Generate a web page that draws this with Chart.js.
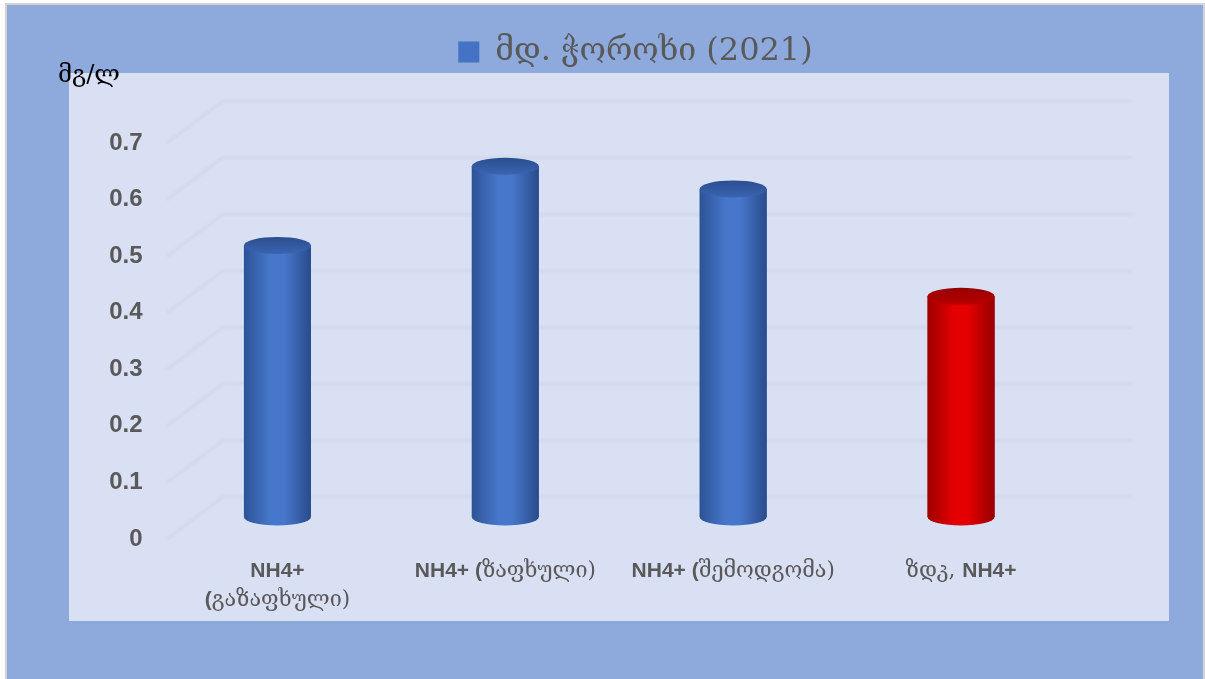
<!DOCTYPE html>
<html>
<head>
<meta charset="utf-8">
<title>მდ. ჭოროხი (2021)</title>
<script src="https://cdn.jsdelivr.net/npm/chart.js@4.4.1/dist/chart.umd.min.js"></script>
<style>
  html, body { margin: 0; padding: 0; background: #fff; }
  canvas { display: block; }
</style>
</head>
<body>
<canvas id="chart" width="1205" height="679"></canvas>
<script>
// ===== Data =====
const categories = [["NH4+", "(გაზაფხული)"], "NH4+ (ზაფხული)", "NH4+ (შემოდგომა)", "ზდკ, NH4+"];
const values = [0.48, 0.62, 0.58, 0.39];
const seriesName = "მდ. ჭოროხი (2021)";
const unitLabel = "მგ/ლ";
const yTicks = [0, 0.1, 0.2, 0.3, 0.4, 0.5, 0.6, 0.7];
const yTickLabels = ["0", "0.1", "0.2", "0.3", "0.4", "0.5", "0.6", "0.7"];

// ===== Styling =====
const TEXT = "#595959";
const BOLD_FONT = "bold 21px 'Liberation Sans', Arial, sans-serif";
const GEO_FONT = "21.5px 'DejaVu Serif', serif";

// the limit value (ზდკ) is drawn red, the measurements blue
const isLimit = (i) => String(categories[i]).includes("ზდკ");

const BLUE = { edge: "#2d5396", light: "#4777cb", dark: "#294b8b", capTop: "#2a4e8f", capBottom: "#3a64b2", flat: "#4472c4" };
const RED = { edge: "#a00000", light: "#e40000", dark: "#980000", capTop: "#960000", capBottom: "#bb0000", flat: "#c00000" };
const pal = (i) => (isLimit(i) ? RED : BLUE);

// offsets of the back wall / front edge from the bar plane
const BACK_DY = -20;
const FRONT_DY = 22;
const WALL_X0 = 167;   // front-left corner of the floor grid
const WALL_X1 = 223;   // back-left corner
const WALL_X2 = 1132;  // back-right end of grid lines
const LEGEND_SHIFT = 98;

// ===== Plugins =====
const backdrop = {
  id: "backdrop",
  afterLayout(chart) {
    // legend sits centred over the plot frame, not the axis box
    const lg = chart.legend;
    if (lg) { lg.left += LEGEND_SHIFT; lg.right += LEGEND_SHIFT; }
  },
  beforeDraw(chart) {
    const { ctx, width, height } = chart;
    ctx.save();
    ctx.fillStyle = "#ffffff";
    ctx.fillRect(0, 0, width, height);
    ctx.fillStyle = "#d3d3d3";
    ctx.fillRect(5, 3, 1200, 676);
    ctx.fillStyle = "#8eaadc";
    ctx.fillRect(7, 5, 1196, 674);
    ctx.fillStyle = "#dae0f3";
    ctx.fillRect(69, 73, 1100, 548);
    ctx.restore();
  }
};

// faint 3D wall gridlines
const wallGrid = {
  id: "wallGrid",
  beforeDatasetsDraw(chart) {
    const { ctx } = chart;
    const y = chart.scales.y;
    ctx.save();
    ctx.filter = "blur(1.2px)";
    ctx.strokeStyle = "rgba(204,210,230,0.5)";
    ctx.lineWidth = 3;
    yTicks.forEach((v) => {
      const mid = y.getPixelForValue(v);
      ctx.beginPath();
      ctx.moveTo(WALL_X0, mid + FRONT_DY);
      ctx.lineTo(WALL_X1, mid + BACK_DY);
      ctx.lineTo(WALL_X2, mid + BACK_DY);
      ctx.stroke();
    });
    ctx.restore();
  }
};

// turns the flat bars into shaded cylinders
const cylinders = {
  id: "cylinders",
  afterDatasetsDraw(chart) {
    const { ctx } = chart;
    const meta = chart.getDatasetMeta(0);
    meta.data.forEach((bar, i) => {
      const p = pal(i);
      const rx = bar.width / 2;
      const ry = 8.5;
      const l = bar.x - rx, r = bar.x + rx;
      const body = ctx.createLinearGradient(l, 0, r, 0);
      body.addColorStop(0, p.edge);
      body.addColorStop(0.4, p.light);
      body.addColorStop(0.6, p.light);
      body.addColorStop(1, p.dark);

      ctx.save();
      ctx.fillStyle = body;
      ctx.beginPath();
      ctx.ellipse(bar.x, bar.base, rx, ry, 0, 0, Math.PI * 2);
      ctx.fill();
      ctx.fillRect(l, bar.y, bar.width, bar.base - bar.y);

      const cap = ctx.createLinearGradient(0, bar.y - ry, 0, bar.y + ry);
      cap.addColorStop(0, p.capTop);
      cap.addColorStop(1, p.capBottom);
      ctx.fillStyle = cap;
      ctx.beginPath();
      ctx.ellipse(bar.x, bar.y, rx, ry, 0, 0, Math.PI * 2);
      ctx.fill();
      ctx.restore();
    });
  }
};

// category labels: Latin part bold, Georgian part regular
function splitRuns(text) {
  const runs = [];
  for (const ch of text) {
    let bold = !(/[\u10A0-\u10FF),]/.test(ch));
    if (ch === " " && runs.length) bold = runs[runs.length - 1].bold;
    const last = runs[runs.length - 1];
    if (last && last.bold === bold) last.text += ch;
    else runs.push({ text: ch, bold });
  }
  return runs;
}

const categoryLabels = {
  id: "categoryLabels",
  afterDraw(chart) {
    const { ctx } = chart;
    const x = chart.scales.x;
    ctx.save();
    ctx.fillStyle = TEXT;
    ctx.textBaseline = "middle";
    ctx.textAlign = "left";
    categories.forEach((cat, i) => {
      const cx = x.getPixelForValue(i);
      const lines = Array.isArray(cat) ? cat : [cat];
      lines.forEach((line, k) => {
        const runs = splitRuns(line);
        let total = 0;
        runs.forEach((r) => {
          ctx.font = r.bold ? BOLD_FONT : GEO_FONT;
          r.w = ctx.measureText(r.text).width;
          total += r.w;
        });
        let px = cx - total / 2;
        const py = 571 + k * 29;
        runs.forEach((r) => {
          ctx.font = r.bold ? BOLD_FONT : GEO_FONT;
          ctx.fillText(r.text, px, py);
          px += r.w;
        });
      });
    });

    // unit label in the top-left corner
    ctx.fillStyle = "#000";
    ctx.font = "24px 'DejaVu Serif', serif";
    ctx.textBaseline = "alphabetic";
    ctx.fillText(unitLabel, 58, 82);
    ctx.restore();
  }
};

// ===== Chart =====
new Chart(document.getElementById("chart"), {
  type: "bar",
  data: {
    labels: categories,
    datasets: [{
      label: seriesName,
      data: values,
      backgroundColor: values.map((_, i) => pal(i).flat),
      borderWidth: 0,
      barPercentage: 0.294,
      categoryPercentage: 1
    }]
  },
  options: {
    responsive: false,
    animation: false,
    devicePixelRatio: 1,
    layout: { padding: { top: 26, left: 0, right: 130, bottom: 162 } },
    plugins: {
      tooltip: { enabled: false },
      legend: {
        position: "top",
        labels: {
          color: TEXT,
          font: { family: "'DejaVu Serif', serif", size: 32 },
          boxWidth: 21,
          boxHeight: 21,
          padding: 10,
          generateLabels: () => [{
            text: seriesName,
            fillStyle: BLUE.flat,
            strokeStyle: BLUE.flat,
            lineWidth: 0,
            fontColor: TEXT,
            datasetIndex: 0
          }]
        }
      }
    },
    scales: {
      x: {
        display: false,
        offset: true
      },
      spacer: {
        type: "linear",
        position: "top",
        display: true,
        ticks: { display: false },
        grid: { display: false },
        border: { display: false },
        afterFit: (s) => { s.height = 43; }
      },
      y: {
        min: 0,
        max: 0.7,
        afterFit: (s) => { s.width = 163.5; },
        afterBuildTicks: (s) => { s.ticks = yTicks.map((v) => ({ value: v })); },
        grid: { display: false },
        border: { display: false },
        ticks: {
          color: TEXT,
          padding: 13,
          labelOffset: FRONT_DY,
          font: { family: "'Liberation Sans', Arial, sans-serif", size: 24, weight: "bold" },
          callback: (v, idx) => yTickLabels[idx]
        }
      }
    }
  },
  plugins: [backdrop, wallGrid, cylinders, categoryLabels]
});
</script>
</body>
</html>
